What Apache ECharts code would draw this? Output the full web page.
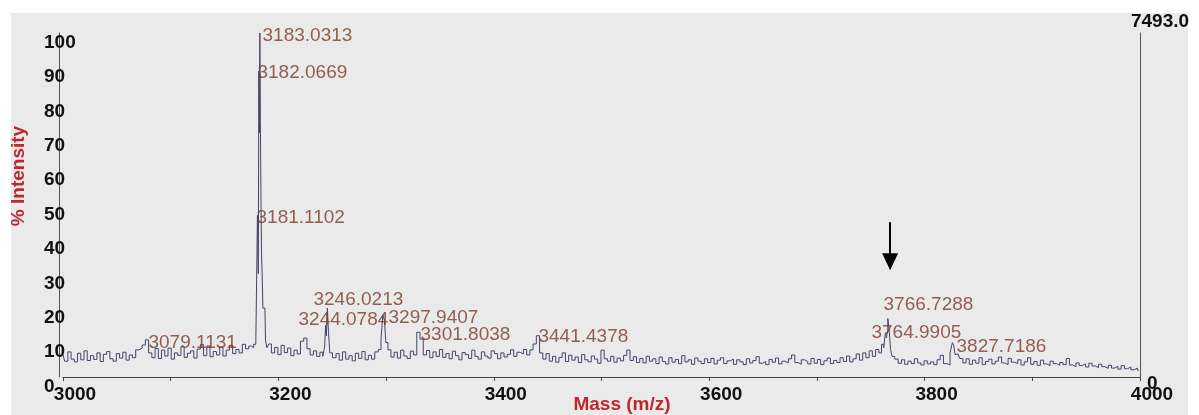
<!DOCTYPE html>
<html>
<head>
<meta charset="utf-8">
<script src="https://cdn.jsdelivr.net/npm/echarts@6/dist/echarts.min.js"></script>
<style>
html,body{margin:0;padding:0;background:#fff;}
#chart{width:1199px;height:415px;}
</style>
</head>
<body>
<div id="chart"></div>
<script>
// ---- data ----
// baseline spectrum on a regular m/z grid (start 3000, step 3)
const gridStart = 3000;
const gridStep = 3;
const baseline = [
  6.5, 4.6, 7.3, 5.2, 4.4, 6.9, 5.0, 7.6, 4.8, 6.2,
  5.1, 7.0, 4.5, 6.6, 7.4, 5.3, 4.6, 6.8, 5.5, 7.2,
  4.9, 6.4, 5.6, 7.9, 8.4, 9.3, 10.8, 7.0, 5.6, 8.3,
  5.4, 7.8, 6.1, 8.4, 5.2, 7.0, 6.3, 8.8, 5.7, 6.9,
  7.6, 5.5, 8.1, 9.4, 6.2, 9.0, 5.9, 7.4, 6.4, 8.7,
  6.1, 7.8, 9.2, 6.8, 8.0, 7.0, 9.5, 8.2, 9.0, 8.5,
  9.0, 9.0, 9.0, 9.0, 9.6, 7.0, 8.6, 6.5, 9.2, 7.1,
  8.4, 6.2, 7.8, 6.7, 10.4, 11.3, 8.2, 6.4, 7.6, 6.0,
  7.2, 7.0, 7.0, 7.0, 5.6, 6.8, 4.9, 7.3, 5.2, 6.2,
  4.7, 6.9, 5.4, 7.4, 5.0, 6.3, 5.2, 7.3, 7.0, 7.0,
  7.0, 7.9, 5.8, 7.2, 5.5, 7.8, 6.1, 5.4, 7.5, 6.4,
  13.0, 11.0, 6.4, 7.7, 5.6, 7.3, 6.0, 8.0, 5.7, 6.8,
  5.3, 7.5, 6.2, 5.0, 7.1, 6.5, 5.4, 7.8, 6.0, 5.2,
  7.3, 6.1, 5.5, 7.6, 6.8, 5.3, 7.0, 5.8, 6.6, 7.9,
  6.0, 7.2, 6.7, 8.0, 6.4, 7.9, 9.6, 12.0, 7.0, 5.2,
  6.8, 4.6, 6.0, 4.3, 5.7, 7.0, 4.5, 6.3, 4.9, 5.8,
  4.2, 6.5, 5.0, 4.4, 6.1, 5.2, 4.0, 7.8, 5.3, 4.6,
  6.0, 4.3, 5.5, 4.7, 6.3, 7.8, 4.8, 5.9, 4.2, 5.4,
  4.1, 6.0, 4.6, 5.3, 3.9, 5.8, 4.5, 3.8, 5.6, 4.3,
  5.1, 3.9, 6.2, 4.4, 5.0, 3.7, 5.5, 4.6, 3.9, 5.3,
  4.2, 5.4, 3.8, 4.9, 5.6, 3.9, 4.7, 5.2, 3.7, 5.0,
  4.4, 3.6, 5.3, 4.1, 4.8, 5.9, 4.0, 4.5, 3.6, 5.1,
  4.3, 5.5, 3.8, 4.6, 4.1, 5.3, 6.4, 4.2, 3.7, 5.0,
  4.5, 3.8, 5.4, 4.0, 5.1, 3.6, 4.7, 5.5, 3.9, 4.8,
  4.2, 5.6, 4.5, 6.1, 4.4, 5.3, 6.7, 4.9, 7.0, 5.6,
  7.6, 6.0, 8.0, 8.0, 8.0, 8.0, 8.0, 8.0, 5.2, 4.0,
  5.0, 3.7, 4.6, 3.9, 5.3, 4.1, 3.5, 4.7, 3.8, 4.4,
  3.6, 5.0, 6.3, 3.9, 3.5, 6.0, 6.0, 6.7, 5.4, 4.1,
  5.3, 3.7, 4.9, 4.0, 5.6, 3.6, 4.5, 5.2, 3.8, 4.6,
  5.8, 4.1, 3.6, 5.4, 4.3, 3.9, 5.0, 3.5, 4.4, 5.6,
  3.7, 4.5, 3.4, 4.9, 3.8, 3.3, 4.6, 3.9, 3.4, 4.2,
  3.6, 5.4, 3.5, 3.0, 4.1, 3.3, 3.8, 2.9, 4.0, 3.2,
  2.7, 3.7, 3.0, 2.5, 3.4, 2.6, 3.1, 2.3, 3.3, 2.4,
  2.9, 2.1, 2.6, 2.0
];
// resolved peak profiles (m/z, % intensity)
const peakMz = [
  3176, 3178, 3180, 3181.1, 3181.6, 3182.07, 3182.55, 3183.03, 3183.5, 3184.0, 3184.6, 3185.2, 3186, 3187.5, 3188.5, 3190,
  3242.5, 3243.5, 3244.08, 3245, 3246.02, 3247, 3248.5,
  3294.5, 3296, 3297.94, 3299, 3300.5,
  3759, 3761, 3763, 3764.2, 3765, 3766.73, 3767.8, 3769, 3770.5,
  3825.2, 3826.4, 3827.7, 3829
];
const peakInt = [
  8.5, 9.5, 10, 47, 30, 89, 71, 100, 74, 54, 36, 30, 20, 20, 10.7, 8.5,
  6.0, 9, 15, 12, 20, 13, 7,
  8, 11, 18, 16.5, 10,
  7, 9.5, 8.5, 12.8, 13, 17, 13, 8, 6,
  7, 10, 9.2, 6.5
];
// peak annotations: text and where each label sits (m/z, % intensity)
const labelText = ['3183.0313','3182.0669','3181.1102','3079.1131','3246.0213','3244.0784','3297.9407','3301.8038','3441.4378','3766.7288','3764.9905','3827.7186'];
const labelMz  = [3184.8, 3180.1, 3179.2, 3078.9, 3232.1, 3218.2, 3301.8, 3331.5, 3441.0, 3761.4, 3750.2, 3829.2];
const labelInt = [99.1, 88.4, 46.2, 9.9, 22.4, 16.6, 17.2, 12.2, 11.6, 20.9, 12.8, 8.7];
// arrow annotation (m/z, from %, to %)
const arrow = {mz: 3768, from: 45, to: 33.5};
const maxCounts = 7493;
const xTickLabels = [3000, 3200, 3400, 3600, 3800, 4000];

// ---- build series ----
const spectrum = [];
baseline.forEach((v, i) => {
  const mz = gridStart + i * gridStep;
  if (peakMz.some(p => Math.abs(p - mz) < 1.9)) return;
  spectrum.push([mz, v]);
});
peakMz.forEach((m, i) => spectrum.push([m, peakInt[i]]));
spectrum.sort((a, b) => a[0] - b[0]);

const labels = labelText.map((t, i) => ({name: t, value: [labelMz[i], labelInt[i]]}));

const FONT = "'Liberation Sans', Arial, sans-serif";
const chart = echarts.init(document.getElementById('chart'), null, {renderer: 'canvas'});
chart.setOption({
  animation: false,
  backgroundColor: 'transparent',
  graphic: [
    {type: 'rect', z: -10, silent: true, shape: {x: 11, y: 13, width: 1177, height: 402}, style: {fill: '#eaeaea'}},
    {type: 'text', z: 10, silent: true, x: 19, y: 176, rotation: Math.PI / 2,
      style: {text: '% Intensity', fontFamily: FONT, fontWeight: 'bold', fontSize: 19, fill: '#c0272d', align: 'center', verticalAlign: 'middle'}},
    {type: 'text', z: 10, silent: true, x: 622, y: 405,
      style: {text: 'Mass (m/z)', fontFamily: FONT, fontWeight: 'bold', fontSize: 19, fill: '#c0272d', align: 'center', verticalAlign: 'middle'}}
  ],
  grid: {left: 63, right: 59, top: 33, bottom: 38, containLabel: false},
  xAxis: {
    type: 'value', min: 3000, max: 4000, interval: 100,
    splitLine: {show: false},
    axisLine: {onZero: false, lineStyle: {color: '#444', width: 1}},
    axisTick: {length: 4, lineStyle: {color: '#444'}},
    axisLabel: {
      margin: 8, fontFamily: FONT, fontWeight: 'bold', fontSize: 19, color: '#111',
      padding: [0, 0, 0, 24],
      formatter: v => xTickLabels.includes(v) ? String(v) : ''
    }
  },
  yAxis: [
    {
      type: 'value', min: 0, max: 100, interval: 10, offset: 4,
      splitLine: {show: false},
      axisLine: {show: true, onZero: false, lineStyle: {color: '#555', width: 1}},
      axisTick: {show: false},
      axisLabel: {margin: 15, align: 'left', verticalAlign: 'top', lineHeight: 19,
        fontFamily: FONT, fontWeight: 'bold', fontSize: 19, color: '#111'}
    },
    {
      type: 'value', position: 'right', min: 0, max: maxCounts, interval: maxCounts,
      splitLine: {show: false},
      axisLine: {show: true, onZero: false, lineStyle: {color: '#555', width: 1}},
      axisTick: {show: false},
      name: maxCounts.toFixed(1), nameLocation: 'end', nameGap: 2,
      nameTextStyle: {fontFamily: FONT, fontWeight: 'bold', fontSize: 19, color: '#111', align: 'center', padding: [0, 0, 0, 40]},
      axisLabel: {margin: 7, align: 'left', verticalAlign: 'top', lineHeight: 14,
        fontFamily: FONT, fontWeight: 'bold', fontSize: 19, color: '#111',
        formatter: v => v === 0 ? '0' : ''}
    }
  ],
  series: [
    {
      type: 'line', data: spectrum, step: 'middle', showSymbol: false, symbol: 'none',
      lineStyle: {color: '#44446a', width: 1}, silent: true, z: 2,
      markLine: {
        silent: true, symbol: ['none', 'triangle'], symbolSize: [16, 17],
        label: {show: false},
        lineStyle: {color: '#000', width: 2, type: 'solid'},
        data: [[{coord: [arrow.mz, arrow.from]}, {coord: [arrow.mz, arrow.to]}]]
      }
    },
    {
      type: 'scatter', data: labels, symbol: 'circle', symbolSize: 1,
      itemStyle: {color: 'rgba(0,0,0,0)'}, silent: true, z: 5,
      label: {show: true, position: 'right', distance: 0, formatter: p => p.name,
        fontFamily: FONT, fontSize: 19, color: '#7a3b28'}
    }
  ]
});
</script>
</body>
</html>
